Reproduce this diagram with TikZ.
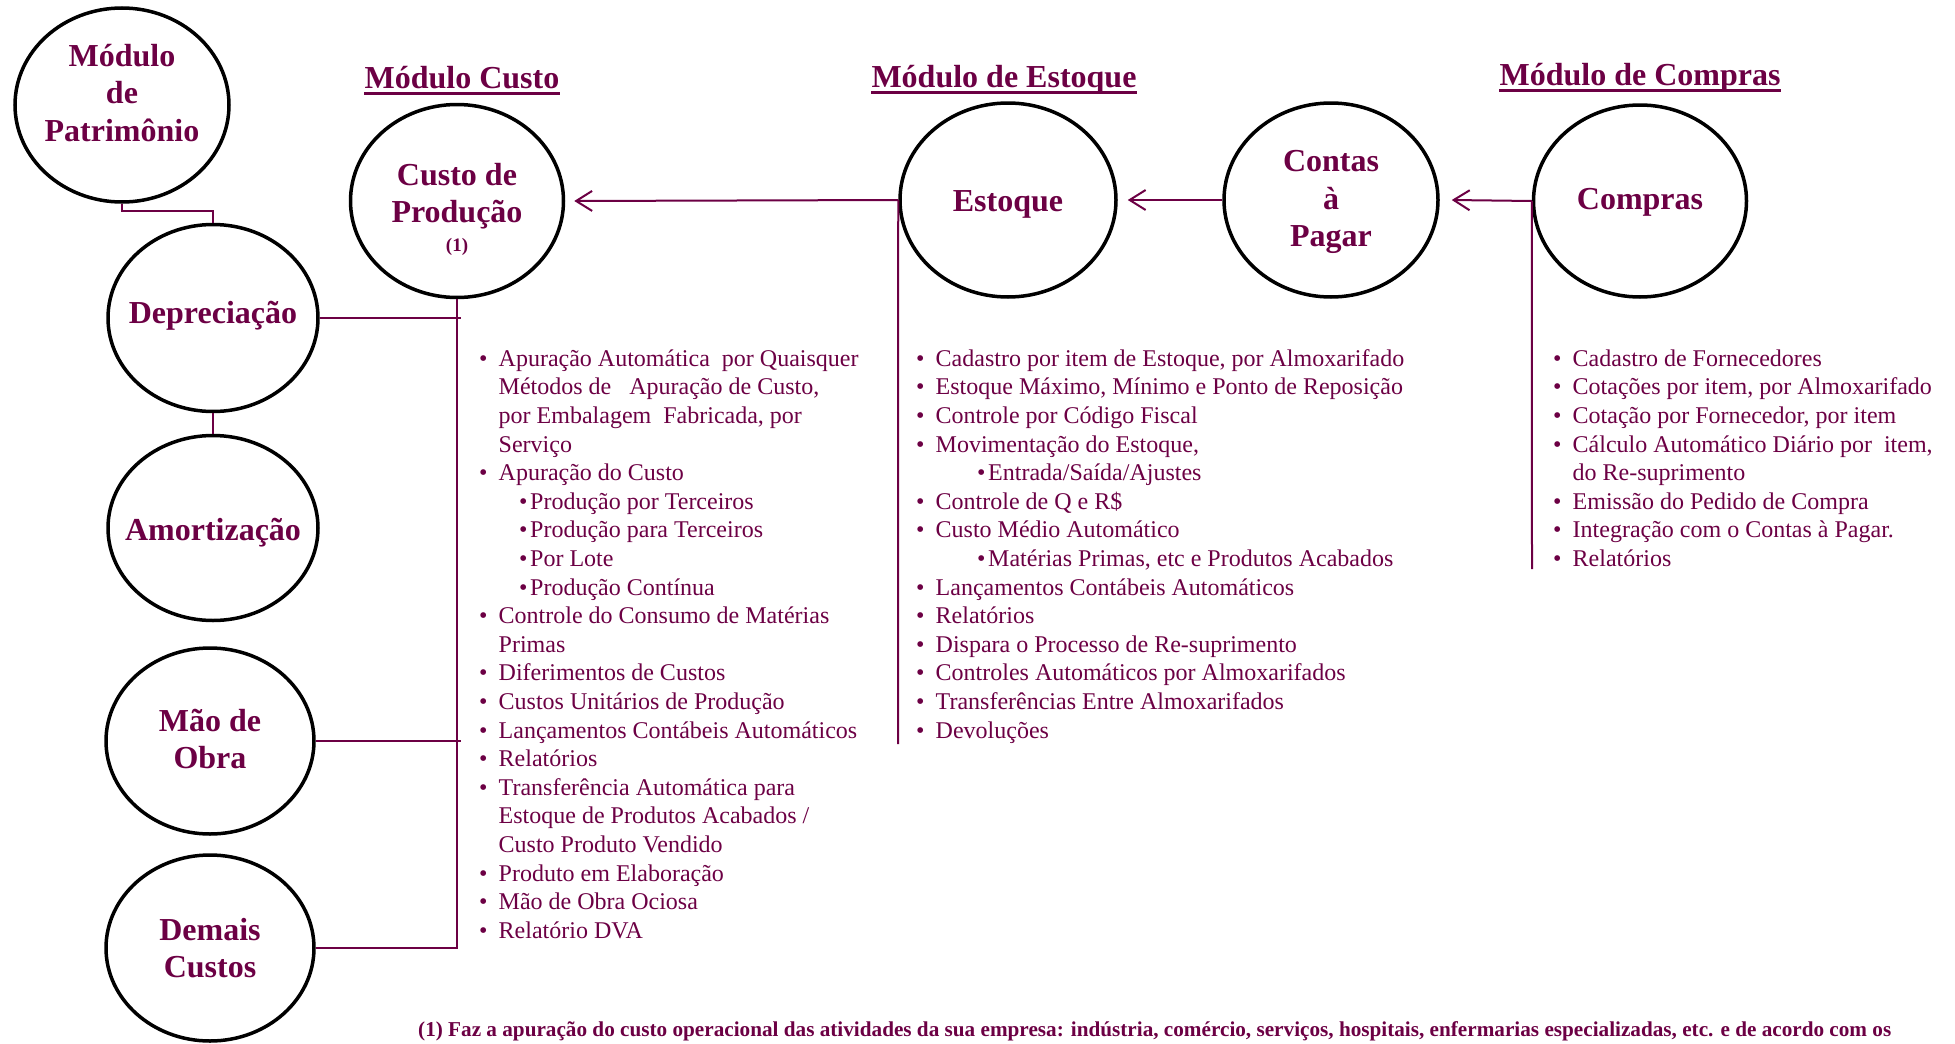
\documentclass[tikz,border=0pt]{standalone}
\usepackage{fontspec}
\setmainfont{Liberation Serif}
\usetikzlibrary{arrows.meta}
\usetikzlibrary{calc}
\usetikzlibrary{positioning}
\usetikzlibrary{shapes}

\definecolor{vinho}{RGB}{108,0,68}
\newcommand{\bul}{\makebox[19.5pt][l]{\textbullet}}
\newcommand{\ind}{\hspace*{19.5pt}}
\newcommand{\subbul}[1]{\hspace*{#1}\makebox[11pt][l]{\textbullet}}

\begin{document}
\begin{tikzpicture}[x=1pt, y=-1pt,
    modulo/.style={draw=black, ellipse, line width=3.5pt, inner sep=0pt},
    rotulo/.style={text=vinho, font=\bfseries\fontsize{32}{37.5}\selectfont, align=center, inner sep=0pt},
    titulo/.style={text=vinho, font=\bfseries\fontsize{32}{38}\selectfont, inner sep=0pt, anchor=base},
    lista/.style={text=vinho, font=\fontsize{24}{28.6}\selectfont, align=left, inner sep=0pt, anchor=north west},
    liga/.style={draw=vinho, line width=2pt},
    seta/.style={-{Straight Barb[length=16pt, width=20pt]}}]
  \useasboundingbox (0,0) rectangle (1955,1044);

  \node[modulo, minimum width=214pt, minimum height=194pt, label={[rotulo, yshift=12pt]center:{Módulo\\de\\Patrimônio}}] (patr) at (122,105) {};
  \node[modulo, minimum width=210pt, minimum height=187pt, label={[rotulo, yshift=2pt]center:Depreciação}] (depr) at (213,318) {};
  \node[modulo, minimum width=210pt, minimum height=185pt, label={[rotulo, yshift=-5pt]center:Amortização}] (amort) at (213,528) {};
  \node[modulo, minimum width=208pt, minimum height=186pt, label={[rotulo, yshift=2pt]center:{Mão de\\Obra}}] (mao) at (210,741) {};
  \node[modulo, minimum width=208pt, minimum height=186pt, label={[rotulo]center:{Demais\\Custos}}] (demais) at (210,948) {};
  \node[modulo, minimum width=213pt, minimum height=193pt, label={[rotulo, yshift=-8pt]center:{Custo de\\Produção\\[-9pt]{\fontsize{19}{22}\selectfont (1)}}}] (custo) at (457,201) {};
  \node[modulo, minimum width=216pt, minimum height=194pt, label={[rotulo, yshift=-4pt]center:Estoque}] (estoque) at (1008,200) {};
  \node[modulo, minimum width=214pt, minimum height=194pt, label={[rotulo, yshift=-2pt]center:{Contas\\à\\Pagar}}] (contas) at (1331,200) {};
  \node[modulo, minimum width=213pt, minimum height=192pt, label={[rotulo, yshift=-1pt]center:Compras}] (compras) at (1640,201) {};

  \node[titulo] (tcusto) at (462,88) {Módulo Custo};
  \node[titulo] (testoque) at (1004,87) {Módulo de Estoque};
  \node[titulo] (tcompras) at (1640,85) {Módulo de Compras};
  \foreach \t in {tcusto,testoque,tcompras}
    \draw[vinho, line width=2.5pt] ([yshift=-5.5pt]\t.base west) -- ([yshift=-5.5pt]\t.base east);

  \coordinate (fimest) at (898,744);
  \coordinate (fimcomp) at (1532,569);
  \draw[liga] (patr.south) -- ++(0,7) -| (depr.north);
  \draw[liga] (depr.south) -- (amort.north);
  \draw[liga] (custo.south) |- (demais.east);
  \draw[liga] (depr.east) -- ([xshift=4pt]depr.east -| custo.south);
  \draw[liga] (mao.east) -- ([xshift=4pt]mao.east -| custo.south);
  \draw[liga, seta] (estoque.west) -- ([xshift=9pt]custo.east);
  \draw[liga] (estoque.west) -- (fimest);
  \draw[liga, seta] (contas.west) -- ([xshift=10pt]estoque.east);
  \draw[liga, seta] (compras.west) -- ([xshift=12pt]contas.east);
  \draw[liga] (compras.west) -- (fimcomp);

  \node[lista] (lcusto) at (479,346) {\strut\bul Apuração Automática~~por Quaisquer\\
    \ind Métodos de~~~Apuração de Custo,\\
    \ind por Embalagem~~Fabricada, por\\
    \ind Serviço\\
    \bul Apuração do Custo\\
    \subbul{40pt}Produção por Terceiros\\
    \subbul{40pt}Produção para Terceiros\\
    \subbul{40pt}Por Lote\\
    \subbul{40pt}Produção Contínua\\
    \bul Controle do Consumo de Matérias\\
    \ind Primas\\
    \bul Diferimentos de Custos\\
    \bul Custos Unitários de Produção\\
    \bul Lançamentos Contábeis Automáticos\\
    \bul Relatórios\\
    \bul Transferência Automática para\\
    \ind Estoque de Produtos Acabados /\\
    \ind Custo Produto Vendido\\
    \bul Produto em Elaboração\\
    \bul Mão de Obra Ociosa\\
    \bul Relatório DVA};
  \node[lista] (lestoque) at (916,346) {\strut\bul Cadastro por item de Estoque, por Almoxarifado\\
    \bul Estoque Máximo, Mínimo e Ponto de Reposição\\
    \bul Controle por Código Fiscal\\
    \bul Movimentação do Estoque,\\
    \subbul{61pt}Entrada/Saída/Ajustes\\
    \bul Controle de Q e R\$\\
    \bul Custo Médio Automático\\
    \subbul{61pt}Matérias Primas, etc e Produtos Acabados\\
    \bul Lançamentos Contábeis Automáticos\\
    \bul Relatórios\\
    \bul Dispara o Processo de Re-suprimento\\
    \bul Controles Automáticos por Almoxarifados\\
    \bul Transferências Entre Almoxarifados\\
    \bul Devoluções};
  \node[lista] (lcompras) at (1553,346) {\strut\bul Cadastro de Fornecedores\\
    \bul Cotações por item, por Almoxarifado\\
    \bul Cotação por Fornecedor, por item\\
    \bul Cálculo Automático Diário por~~item,\\
    \ind do Re-suprimento\\
    \bul Emissão do Pedido de Compra\\
    \bul Integração com o Contas à Pagar.\\
    \bul Relatórios};

  \node[anchor=base west, inner sep=0pt, text=vinho, font=\bfseries\fontsize{21.2}{25}\selectfont] (nota) at (418,1036) {(1) Faz a apuração do custo operacional das atividades da sua empresa: indústria, comércio, serviços, hospitais, enfermarias especializadas, etc. e de acordo com os};
\end{tikzpicture}
\end{document}
